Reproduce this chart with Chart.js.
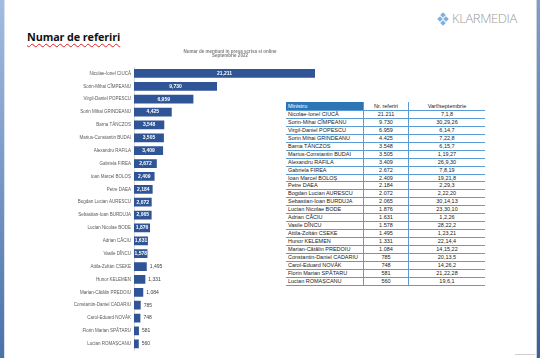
<!DOCTYPE html>
<html>
<head>
<meta charset="utf-8">
<script src="https://cdn.jsdelivr.net/npm/chart.js@4.4.0/dist/chart.umd.min.js"></script>
<style>
  html, body { margin:0; padding:0; background:#fff; }
  body { width:540px; height:358px; position:relative; overflow:hidden; font-family:"Liberation Sans", Arial, sans-serif; }
  #leftStrip { position:absolute; left:0; top:0; width:4px; height:358px; background:linear-gradient(#a3bde0, #4c72aa); border-right:1px solid #d6e0ee; }
  #rightStrip { position:absolute; left:536px; top:0; width:4px; height:358px; background:linear-gradient(#7f9ccc, #3f5f95); border-left:1px solid #c9d3e2; }
  #pageTitle { position:absolute; left:27px; top:29px; font-family:"Open Sans", "Liberation Sans", sans-serif; font-weight:700; font-size:10.8px; color:#111;
    text-decoration: underline wavy #e02020; text-decoration-thickness:0.5px; text-underline-offset:2px; letter-spacing:-0.1px; }
  #logoText { position:absolute; left:452px; top:9px; font-family:"Open Sans", "Liberation Sans", sans-serif; font-weight:300; font-size:13px; color:#9a9a9a; letter-spacing:-0.4px; }
  .dm { position:absolute; width:4px; height:4px; background:#7fb0de; transform:rotate(45deg); }
  #chartWrap { position:absolute; left:30px; top:46px; width:400px; height:310px; }
  #tbl { position:absolute; left:286px; top:102px; width:199px; font-family:"Liberation Sans", Arial, sans-serif; font-size:5.5px; color:#222; background:#fff; }
  .row { display:flex; height:7.95px; box-sizing:border-box; border-bottom:0.8px solid #5b9bd5; line-height:7.2px; white-space:nowrap; }
  .row.head { height:9px; line-height:8.5px; border-bottom:1px solid #5b9bd5; }
  .row div { box-sizing:border-box; overflow:hidden; }
  .c1 { width:77px; padding-left:2px; text-align:left; }
  .c2 { width:45px; text-align:center; border-left:1.2px solid #5b9bd5; }
  .c3 { width:77px; text-align:center; border-left:1.2px solid #5b9bd5; }
  .head .c1 { background:#2e75b6; color:#fff; }
  #scroll { position:absolute; left:515px; top:354px; width:20px; height:1px; background:#cfcfcf; }
</style>
</head>
<body>
<div id="leftStrip"></div>
<div id="rightStrip"></div>
<div id="pageTitle">Numar de referiri</div>
<div class="dm" style="left:441px;top:13px"></div>
<div class="dm" style="left:438px;top:17px"></div>
<div class="dm" style="left:444px;top:17px"></div>
<div class="dm" style="left:441px;top:21px"></div>
<div id="logoText">KLARMEDIA</div>
<div id="chartWrap"><canvas id="c" width="400" height="310"></canvas></div>
<div id="tbl"></div>
<div id="scroll"></div>
<script>
const ministers = ["Nicolae-Ionel CIUCĂ","Sorin-Mihai CÎMPEANU","Virgil-Daniel POPESCU","Sorin Mihai GRINDEANU","Barna TÁNCZOS","Marius-Constantin BUDAI","Alexandru RAFILA","Gabriela FIREA","Ioan Marcel BOLOȘ","Petre DAEA","Bogdan Lucian AURESCU","Sebastian-Ioan BURDUJA","Lucian Nicolae BODE","Adrian CÂCIU","Vasile DÎNCU","Attila-Zoltán CSEKE","Hunor KELEMEN","Marian-Cătălin PREDOIU","Constantin-Daniel CADARIU","Carol-Eduard NOVÁK","Florin Marian SPĂTARU","Lucian ROMAȘCANU"];
const mentions = [21211,9730,6959,4425,3548,3505,3409,2672,2409,2184,2072,2065,1876,1631,1578,1495,1331,1084,785,748,581,560];
const peakDays = ["7,1,8","30,29,26","6,14,7","7,22,8","6,15,7","1,19,27","26,9,30","7,8,19","19,21,8","2,29,3","2,22,20","30,14,13","23,30,10","1,2,26","28,22,2","1,23,21","22,14,4","14,15,22","20,13,5","14,26,2","21,22,28","19,6,1"];
const chartTitle = ["Numar de mentiuni in presa scrisa si online","Septembrie 2022"];
const tableHeaders = ["Ministru","Nr. referiri","Varf/septembrie"];

// table
const tbl = document.getElementById('tbl');
let html = '<div class="row head"><div class="c1">'+tableHeaders[0]+'</div><div class="c2">'+tableHeaders[1]+'</div><div class="c3">'+tableHeaders[2]+'</div></div>';
ministers.forEach((m,i)=>{
  html += '<div class="row"><div class="c1">'+m+'</div><div class="c2">'+mentions[i].toLocaleString('de-DE')+'</div><div class="c3">'+peakDays[i]+'</div></div>';
});
tbl.innerHTML = html;

const labelPlugin = {
  id:'barLabels',
  afterDatasetsDraw(chart){
    const ctx = chart.ctx;
    const meta = chart.getDatasetMeta(0);
    ctx.save();
    ctx.textBaseline = 'middle';
    meta.data.forEach((bar,i)=>{
      const v = mentions[i];
      const txt = v.toLocaleString('en-US');
      if (v >= 1500) {
        ctx.font = 'bold 5px "Liberation Sans", Arial, sans-serif';
        ctx.fillStyle = '#ffffff';
        ctx.textAlign = 'center';
        ctx.fillText(txt, (bar.x + bar.base)/2, bar.y);
      } else {
        ctx.font = '5px "Liberation Sans", Arial, sans-serif';
        ctx.fillStyle = '#404040';
        ctx.textAlign = 'left';
        ctx.fillText(txt, bar.x + 3, bar.y);
      }
    });
    ctx.restore();
  }
};

new Chart(document.getElementById('c'), {
  type:'bar',
  data:{ labels: ministers, datasets:[{ data: mentions, backgroundColor:'#2f5597', borderWidth:0, barPercentage:0.68, categoryPercentage:1 }] },
  options:{
    indexAxis:'y',
    responsive:false,
    animation:false,
    devicePixelRatio:1,
    layout:{ padding:{ left:0, right:0, top:0, bottom:0 } },
    plugins:{
      legend:{ display:false },
      tooltip:{ enabled:false },
      title:{ display:true, text: chartTitle, color:'#7f7f7f', font:{ size:4.5, family:'"Liberation Sans", Arial, sans-serif', lineHeight:0.95 }, padding:{ top:3.5, bottom:9 } }
    },
    scales:{
      x:{ display:false, min:0, max: 21211*(400-104)/181 },
      y:{
        afterFit(scale){ scale.width = 104; },
        grid:{ display:false, drawTicks:false },
        border:{ display:true, color:'#d9d9d9', width:1 },
        ticks:{ color:'#595959', padding:3, font:{ size:4.5, family:'"Liberation Sans", Arial, sans-serif' }, autoSkip:false }
      }
    }
  },
  plugins:[labelPlugin]
});
</script>
</body>
</html>
